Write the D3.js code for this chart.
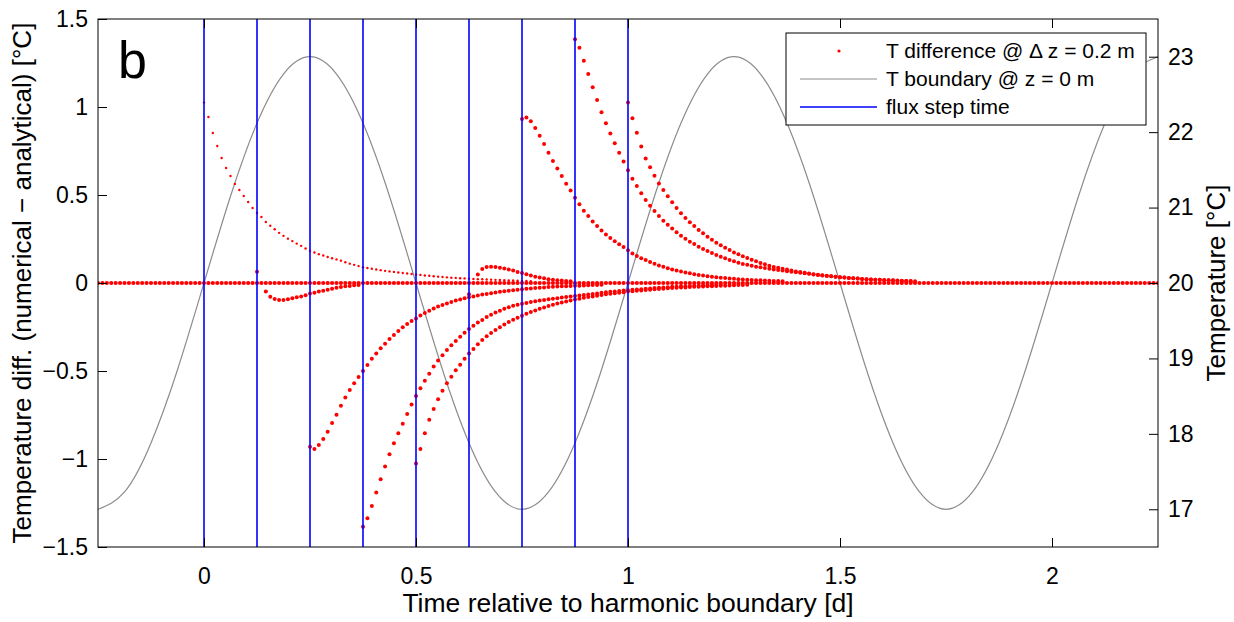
<!DOCTYPE html>
<html>
<head>
<meta charset="utf-8">
<script src="https://cdn.jsdelivr.net/npm/d3@7"></script>
<style>
  body { margin: 0; background: #fff; }
  svg { display: block; }
  text { font-family: "Liberation Sans", Arial, Helvetica, sans-serif; fill: #000; }
</style>
</head>
<body>
<svg id="chart" width="1234" height="622"></svg>
<script>
// sampling of the simulation output: one dot every 15 min
const stepDays = 1 / 96;

const xTicks = [0, 0.5, 1, 1.5, 2];
const diffTicks = [-1.5, -1, -0.5, 0, 0.5, 1, 1.5];
const tempTicks = [17, 18, 19, 20, 21, 22, 23];

// flux step times [d]
const fluxStepTimes = [0, 0.125, 0.25, 0.375, 0.5, 0.625, 0.75, 0.875, 1];

// T boundary @ z = 0 m, read every 1/16 d starting at -0.25 d
const boundaryStart = -0.25;
const boundaryStep = 1 / 16;
const boundaryTemp = [
  17.00, 17.23, 17.88, 18.85, 20.00, 21.15, 22.12, 22.77,
  23.00, 22.77, 22.12, 21.15, 20.00, 18.85, 17.88, 17.23,
  17.00, 17.23, 17.88, 18.85, 20.00, 21.15, 22.12, 22.77,
  23.00, 22.77, 22.12, 21.15, 20.00, 18.85, 17.88, 17.23,
  17.00, 17.23, 17.88, 18.85, 20.00, 21.15, 22.12, 22.77, 23.00
];

// zero row of the difference: first and last step index (t = i / 96)
const zeroRowSteps = [-24, 216];

// T difference curves after each flux step, one value per 15 min step from their start index
const startA = 0;
const diffA = [1.025, 0.943, 0.852, 0.778, 0.71, 0.653, 0.608, 0.563, 0.528, 0.494, 0.46, 0.426,
  0.398, 0.375, 0.347, 0.325, 0.305, 0.285, 0.268, 0.252, 0.238, 0.224, 0.211, 0.196, 0.182,
  0.173, 0.164, 0.156, 0.148, 0.141, 0.134, 0.127, 0.118, 0.11, 0.103, 0.096, 0.089, 0.085,
  0.081, 0.077, 0.073, 0.069, 0.066, 0.063, 0.06, 0.057, 0.054, 0.051, 0.048, 0.046, 0.043,
  0.041, 0.038, 0.036, 0.034, 0.032, 0.03, 0.029, 0.027, 0.026, 0.024, 0.023, 0.022, 0.021,
  0.02, 0.019, 0.018, 0.017, 0.016, 0.015, 0.014, 0.013, 0.012, 0.011, 0.01];

const startB = 12;
const diffB = [0.064, null, -0.049, -0.078, -0.091, -0.097, -0.097, -0.093, -0.087, -0.081,
  -0.076, -0.07, -0.06, -0.055, -0.049, -0.044, -0.038, -0.032, -0.027, -0.023, -0.019,
  -0.017, -0.013, -0.011];

const startC = 24;
const diffC = [-0.93, -0.943, -0.92, -0.886, -0.845, -0.795, -0.748, -0.697, -0.65, -0.608,
  -0.57, -0.534, -0.5, -0.466, -0.43, -0.4, -0.371, -0.345, -0.318, -0.295, -0.273, -0.252,
  -0.233, -0.216, -0.201, -0.184, -0.17, -0.157, -0.145, -0.134, -0.125, -0.116, -0.108,
  -0.1, -0.094, -0.087, -0.081, -0.076, -0.071, -0.066, -0.062, -0.058, -0.054, -0.05,
  -0.047, -0.044, -0.041, -0.038, -0.035, -0.033, -0.031, -0.029, -0.027, -0.025, -0.023,
  -0.022, -0.02, -0.019, -0.018, -0.017, -0.016, -0.015, -0.014, -0.013, -0.012, -0.011, -0.01];

const startD = 36;
const diffD = [-1.385, -1.337, -1.267, -1.19, -1.115, -1.043, -0.973, -0.91, -0.854, -0.8,
  -0.744, -0.69, -0.642, -0.598, -0.555, -0.515, -0.475, -0.44, -0.41, -0.38, -0.354, -0.33,
  -0.305, -0.282, -0.261, -0.243, -0.225, -0.21, -0.193, -0.18, -0.168, -0.157, -0.147,
  -0.138, -0.129, -0.123, -0.118, -0.113, -0.108, -0.104, -0.1, -0.096, -0.092, -0.089,
  -0.086, -0.083, -0.08, -0.077, -0.074, -0.071, -0.068, -0.065, -0.062, -0.059, -0.056,
  -0.053, -0.05, -0.048, -0.045, -0.043, -0.041, -0.039, -0.037, -0.035, -0.033, -0.031,
  -0.029, -0.027, -0.025, -0.024, -0.022, -0.021, -0.019, -0.018, -0.017, -0.016, -0.015,
  -0.014, -0.013, -0.012, -0.011, -0.01];

const startE = 48;
const diffE = [-1.025, -0.943, -0.854, -0.777, -0.716, -0.66, -0.612, -0.57, -0.532, -0.496,
  -0.464, -0.43, -0.4, -0.375, -0.348, -0.324, -0.303, -0.284, -0.267, -0.251, -0.236,
  -0.222, -0.209, -0.197, -0.186, -0.175, -0.165, -0.156, -0.147, -0.139, -0.131, -0.124,
  -0.117, -0.111, -0.105, -0.099, -0.094, -0.089, -0.084, -0.08, -0.076, -0.072, -0.068,
  -0.064, -0.061, -0.058, -0.055, -0.052, -0.049, -0.047, -0.044, -0.042, -0.04, -0.038,
  -0.036, -0.034, -0.032, -0.03, -0.029, -0.027, -0.026, -0.025, -0.023, -0.022, -0.021,
  -0.02, -0.019, -0.018, -0.017, -0.016, -0.015, -0.014, -0.013, -0.012, -0.011, -0.01];

const startBump = 60;
const diffBump = [-0.064, null, 0.049, 0.08, 0.091, 0.093, 0.091, 0.087, 0.082, 0.076, 0.071,
  0.063, 0.057, 0.05, 0.043, 0.036, 0.031, 0.027, 0.022, 0.019, 0.016, 0.014, 0.012, 0.01];

const startF = 72;
const diffF = [0.932, 0.941, 0.919, 0.88, 0.837, 0.79, 0.74, 0.693, 0.65, 0.608, 0.564, 0.525,
  0.485, 0.447, 0.411, 0.38, 0.35, 0.324, 0.299, 0.276, 0.256, 0.237, 0.22, 0.205, 0.186,
  0.168, 0.154, 0.141, 0.13, 0.119, 0.109, 0.1, 0.092, 0.084, 0.077, 0.071, 0.065, 0.06,
  0.055, 0.05, 0.046, 0.042, 0.039, 0.036, 0.033, 0.03, 0.028, 0.026, 0.024, 0.022, 0.02,
  0.018, 0.017, 0.016, 0.015, 0.014, 0.013, 0.012, 0.011, 0.01];

const startG = 84;
const diffG = [1.385, 1.337, 1.263, 1.188, 1.112, 1.04, 0.97, 0.907, 0.85, 0.794, 0.74, 0.69,
  0.64, 0.593, 0.551, 0.51, 0.472, 0.439, 0.409, 0.381, 0.354, 0.331, 0.309, 0.288, 0.269,
  0.252, 0.235, 0.222, 0.206, 0.193, 0.182, 0.17, 0.159, 0.149, 0.14, 0.131, 0.123, 0.115,
  0.108, 0.103, 0.098, 0.093, 0.089, 0.085, 0.081, 0.077, 0.074, 0.071, 0.067, 0.064, 0.061,
  0.058, 0.055, 0.052, 0.049, 0.046, 0.043, 0.04, 0.038, 0.035, 0.033, 0.031, 0.029, 0.027,
  0.025, 0.023, 0.022, 0.02, 0.019, 0.018, 0.017, 0.016, 0.015, 0.014, 0.013, 0.012, 0.011, 0.01];

const startH = 96;
const diffH = [1.025, 0.936, 0.854, 0.775, 0.708, 0.657, 0.61, 0.566, 0.528, 0.493, 0.459,
  0.426, 0.396, 0.369, 0.345, 0.324, 0.301, 0.282, 0.263, 0.246, 0.229, 0.214, 0.2, 0.188,
  0.174, 0.163, 0.152, 0.142, 0.132, 0.123, 0.114, 0.106, 0.098, 0.091, 0.086, 0.081, 0.076,
  0.071, 0.066, 0.062, 0.058, 0.054, 0.05, 0.047, 0.044, 0.041, 0.038, 0.036, 0.033, 0.031,
  0.029, 0.027, 0.025, 0.023, 0.022, 0.02, 0.019, 0.018, 0.016, 0.015, 0.014, 0.013, 0.012,
  0.011, 0.01];

// ---- layout
const plot = { left: 98, right: 1158, top: 19, bottom: 547 };

const svg = d3.select("#chart");

const x = d3.scaleLinear().domain([-0.25, 2.25]).range([plot.left, plot.right]);
const yDiff = d3.scaleLinear().domain([-1.5, 1.5]).range([plot.bottom, plot.top]);
const yTemp = d3.scaleLinear().domain([16.5, 23.5]).range([plot.bottom, plot.top]);
const fmt = d3.format("~g");

svg.append("defs").append("clipPath").attr("id", "plotClip")
  .append("rect")
  .attr("x", plot.left).attr("y", plot.top)
  .attr("width", plot.right - plot.left).attr("height", plot.bottom - plot.top);

const body = svg.append("g").attr("clip-path", "url(#plotClip)");

// grey boundary temperature
const boundaryPts = boundaryTemp.map((v, i) => [boundaryStart + i * boundaryStep, v]);
body.append("path")
  .datum(boundaryPts)
  .attr("fill", "none")
  .attr("stroke", "#8c8c8c")
  .attr("stroke-width", 1.2)
  .attr("d", d3.line().x(d => x(d[0])).y(d => yTemp(d[1])).curve(d3.curveNatural));

// red dots
const toPoints = (start, values) => values
  .map((v, k) => ({ t: (start + k) * stepDays, v }))
  .filter(d => d.v !== null);

const zeroRow = d3.range(zeroRowSteps[0], zeroRowSteps[1] + 1).map(i => ({ t: i * stepDays, v: 0 }));

const drawDots = (pts, r, cls) => {
  body.append("g").attr("class", cls)
    .selectAll("circle")
    .data(pts)
    .join("circle")
    .attr("cx", d => x(d.t))
    .attr("cy", d => yDiff(d.v))
    .attr("r", r)
    .attr("fill", "#ff0000");
};

drawDots(zeroRow, 2.1, "zero-row");
drawDots(toPoints(startA, diffA), 1.2, "diff-a");
drawDots(toPoints(startB, diffB), 2, "diff-b");
drawDots(toPoints(startC, diffC), 2, "diff-c");
drawDots(toPoints(startD, diffD), 2, "diff-d");
drawDots(toPoints(startE, diffE), 2, "diff-e");
drawDots(toPoints(startBump, diffBump), 2, "diff-bump");
drawDots(toPoints(startF, diffF), 2, "diff-f");
drawDots(toPoints(startG, diffG), 2, "diff-g");
drawDots(toPoints(startH, diffH), 2, "diff-h");

// blue flux step lines
body.append("g")
  .selectAll("line")
  .data(fluxStepTimes)
  .join("line")
  .attr("x1", d => x(d)).attr("x2", d => x(d))
  .attr("y1", plot.top).attr("y2", plot.bottom)
  .attr("stroke", "#0000ff")
  .attr("stroke-width", 1.6);

// ---- axes (ticks point inward)
const tickLen = 9;
const styleAxis = g => {
  g.select(".domain").remove();
  g.selectAll(".tick line").attr("stroke", "#000");
  g.selectAll(".tick text").style("font-size", "23px").attr("fill", "#000");
};

svg.append("g")
  .attr("transform", `translate(0,${plot.bottom})`)
  .call(d3.axisBottom(x).tickValues(xTicks).tickFormat(fmt)
    .tickSizeInner(-tickLen).tickSizeOuter(0).tickPadding(21))
  .call(styleAxis);

svg.append("g")
  .attr("transform", `translate(0,${plot.top})`)
  .call(d3.axisTop(x).tickValues(xTicks).tickSizeInner(-tickLen).tickSizeOuter(0).tickFormat(""))
  .call(styleAxis);

svg.append("g")
  .attr("transform", `translate(${plot.left},0)`)
  .call(d3.axisLeft(yDiff).tickValues(diffTicks).tickFormat(fmt)
    .tickSizeInner(-tickLen).tickSizeOuter(0).tickPadding(10))
  .call(styleAxis);

svg.append("g")
  .attr("transform", `translate(${plot.right},0)`)
  .call(d3.axisRight(yTemp).tickValues(tempTicks).tickFormat(fmt)
    .tickSizeInner(-tickLen).tickSizeOuter(0).tickPadding(10))
  .call(styleAxis);

svg.append("rect")
  .attr("x", plot.left).attr("y", plot.top)
  .attr("width", plot.right - plot.left).attr("height", plot.bottom - plot.top)
  .attr("fill", "none").attr("stroke", "#000").attr("stroke-width", 1);

// axis titles
svg.append("text")
  .attr("x", (plot.left + plot.right) / 2).attr("y", 612)
  .attr("text-anchor", "middle")
  .style("font-size", "26.5px")
  .text("Time relative to harmonic boundary [d]");

svg.append("text")
  .attr("transform", `translate(31,${(plot.top + plot.bottom) / 2}) rotate(-90)`)
  .attr("text-anchor", "middle")
  .style("font-size", "26px")
  .text("Temperature diff. (numerical \u2212 analytical) [°C]");

svg.append("text")
  .attr("transform", `translate(1225,${(plot.top + plot.bottom) / 2}) rotate(-90)`)
  .attr("text-anchor", "middle")
  .style("font-size", "26px")
  .text("Temperature [°C]");

// panel letter
svg.append("text")
  .attr("x", 118).attr("y", 78)
  .style("font-size", "52px")
  .text("b");

// ---- legend
const legend = svg.append("g").attr("transform", "translate(786,33)");
legend.append("rect")
  .attr("width", 360).attr("height", 92)
  .attr("fill", "#fff").attr("stroke", "#000").attr("stroke-width", 1);

const legendItems = [
  { label: "T difference @ \u0394 z = 0.2 m", kind: "dot", color: "#ff0000" },
  { label: "T boundary @ z = 0 m", kind: "line", color: "#8c8c8c" },
  { label: "flux step time", kind: "line", color: "#0000ff" }
];

const rows = legend.selectAll("g.item")
  .data(legendItems)
  .join("g")
  .attr("class", "item")
  .attr("transform", (d, i) => `translate(0,${18 + i * 28})`);

rows.filter(d => d.kind === "dot").append("circle")
  .attr("cx", 53).attr("cy", 0).attr("r", 1.6).attr("fill", d => d.color);

rows.filter(d => d.kind === "line").append("line")
  .attr("x1", 14).attr("x2", 91).attr("y1", 0).attr("y2", 0)
  .attr("stroke", d => d.color).attr("stroke-width", d => d.color === "#0000ff" ? 1.4 : 1.2);

rows.append("text")
  .attr("x", 100).attr("y", 0).attr("dy", "0.35em")
  .style("font-size", "21px")
  .text(d => d.label);
</script>
</body>
</html>
